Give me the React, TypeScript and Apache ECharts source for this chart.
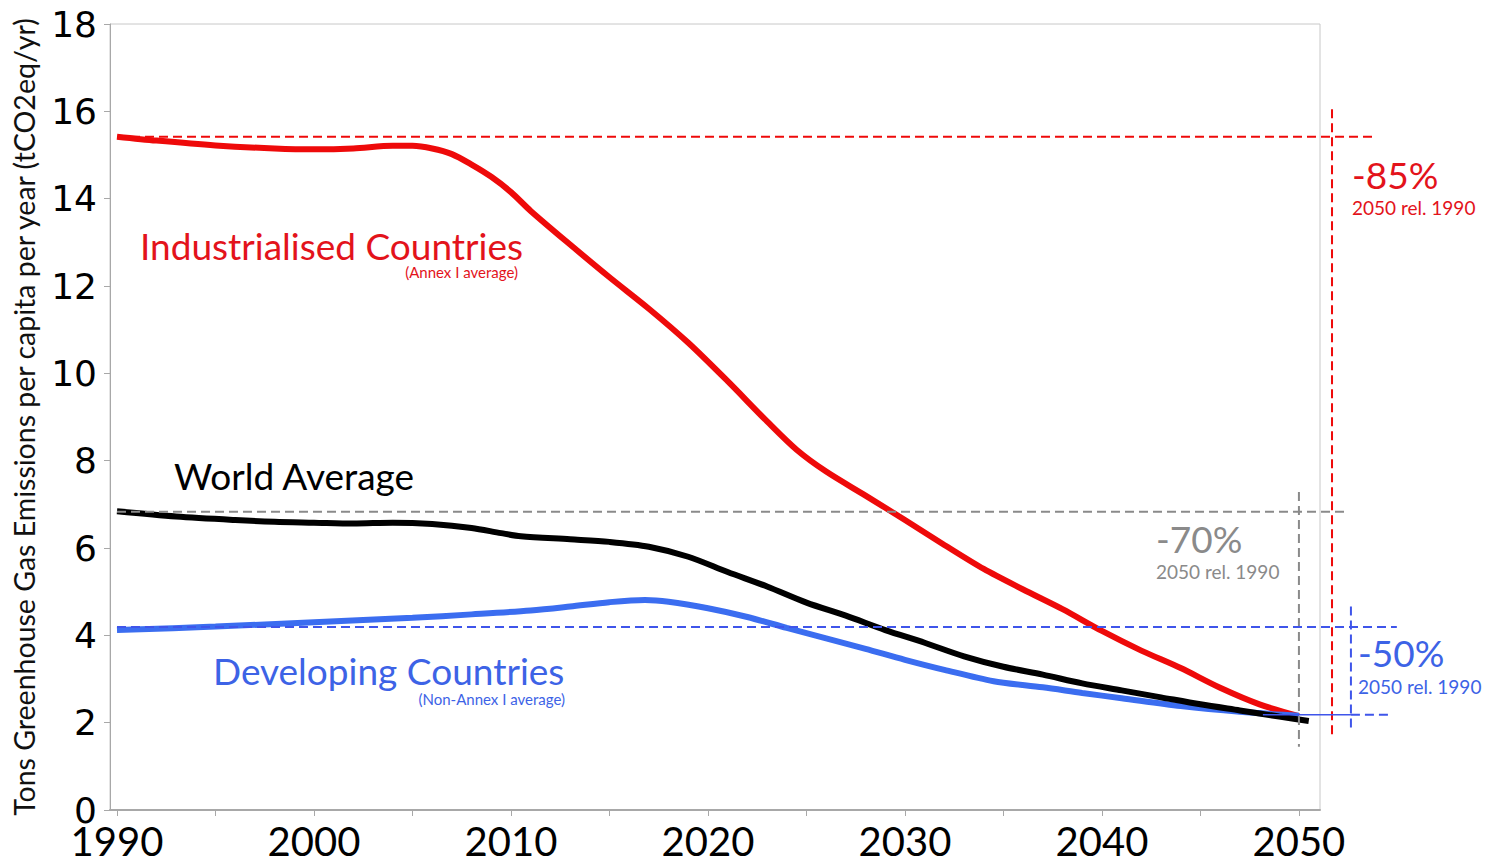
import React, { useEffect, useRef } from "react";
import * as echarts from "echarts";

// ---- Data ----
const industrialisedYears = [1990, 1992, 1995, 1998, 2000, 2002, 2004, 2005, 2006, 2007, 2008, 2009, 2010, 2011, 2013, 2015, 2017, 2019, 2021, 2023, 2024.5, 2026, 2028, 2030, 2032, 2034, 2036, 2038, 2040, 2042, 2044, 2046, 2048, 2050];
const industrialisedValues = [15.42, 15.33, 15.22, 15.15, 15.13, 15.15, 15.21, 15.21, 15.15, 15.02, 14.78, 14.5, 14.15, 13.72, 12.95, 12.2, 11.48, 10.7, 9.82, 8.9, 8.25, 7.75, 7.2, 6.64, 6.07, 5.52, 5.05, 4.6, 4.1, 3.65, 3.25, 2.8, 2.42, 2.15];

const worldYears = [1990, 1993, 1996, 1998, 2000, 2002, 2004, 2006, 2008, 2009.5, 2010.5, 2013, 2015, 2017, 2019, 2021, 2023, 2025, 2027, 2029, 2031, 2033, 2035, 2037, 2039, 2041, 2043, 2045, 2047, 2049, 2050.5];
const worldValues = [6.84, 6.72, 6.64, 6.6, 6.58, 6.56, 6.58, 6.55, 6.46, 6.34, 6.27, 6.2, 6.14, 6.03, 5.8, 5.45, 5.12, 4.75, 4.45, 4.12, 3.83, 3.52, 3.28, 3.1, 2.9, 2.74, 2.58, 2.42, 2.28, 2.14, 2.04];

const developingYears = [1990, 1995, 2000, 2005, 2008, 2011, 2013, 2015, 2016.8, 2018, 2020, 2022, 2024, 2026, 2028, 2030, 2032, 2034.5, 2037, 2039, 2041, 2044, 2047, 2050];
const developingValues = [4.12, 4.2, 4.3, 4.4, 4.48, 4.57, 4.66, 4.76, 4.81, 4.77, 4.62, 4.42, 4.17, 3.93, 3.69, 3.44, 3.21, 2.95, 2.81, 2.68, 2.56, 2.38, 2.25, 2.16];

// reference (dashed) guide lines in data units: [x0, y0, x1, y1]
const redGuideH = [1990, 15.42, 2053.96, 15.42];
const redGuideV = [2051.68, 16.05, 2051.68, 1.67];
const grayGuideH = [1990, 6.83, 2052.34, 6.83];
const grayGuideV = [2050, 7.28, 2050, 1.45];
const blueGuideH = [1990, 4.19, 2054.97, 4.19];
const blueSolidLow = [2048.17, 2.18, 2052.64, 2.18];
const blueGuideLow = [2052.64, 2.18, 2054.77, 2.18];
const blueGuideV = [2052.64, 4.66, 2052.64, 1.8];

const xTicks = [1990, 1995, 2000, 2005, 2010, 2015, 2020, 2025, 2030, 2035, 2040, 2045, 2050];
const xTickLabels = [1990, 2000, 2010, 2020, 2030, 2040, 2050];
const X_MIN = 1989.645;
const X_MAX = 2051.07;

const RED = "#ee0a0a";
const RED_TEXT = "#e3131b";
const BLUE = "#3b6df0";
const BLUE_TEXT = "#3d63e6";
const BLUE_DASH = "#3f55ea";
const GRAY = "#8a8a8a";

const HUMAN = "Lato, 'Open Sans', sans-serif";

function zip(xs: number[], ys: number[]) {
  return xs.map((x, i) => [x, ys[i]]);
}

function txt(text: string, x: number, y: number, color: string, size: number, align = "left") {
  return {
    type: "text",
    x,
    y,
    z: 20,
    style: {
      text,
      fill: color,
      fontSize: size,
      fontFamily: HUMAN,
      align,
      verticalAlign: "middle",
    },
  };
}

export default function App() {
  const ref = useRef<HTMLDivElement>(null);

  useEffect(() => {
    document.body.style.margin = "0";
    const chart = echarts.init(ref.current!, undefined, { renderer: "svg" });
    const lineSeries = (name: string, xs: number[], ys: number[], color: string, z: number) => ({
      name,
      type: "line",
      data: zip(xs, ys),
      symbol: "none",
      smooth: 0.3,
      z,
      lineStyle: { color, width: 6 },
    });
    chart.setOption({
      animation: false,
      backgroundColor: "#ffffff",
      grid: {
        left: 110,
        top: 24,
        right: 166,
        bottom: 50,
        show: true,
        borderColor: "#c8c8c8",
        borderWidth: 1,
        backgroundColor: "transparent",
        containLabel: false,
        outerBoundsMode: "none",
      },
      xAxis: {
        type: "value",
        min: X_MIN,
        max: X_MAX,
        axisLine: { show: true, lineStyle: { color: "#a8a8a8", width: 2 } },
        axisTick: {
          show: true,
          length: 6,
          customValues: xTicks,
          lineStyle: { color: "#a8a8a8", width: 1 },
        },
        splitLine: { show: false },
        axisLabel: {
          margin: 13,
          lineHeight: 36,
          color: "#000",
          fontSize: 40,
          fontFamily: HUMAN,
          customValues: xTickLabels,
          formatter: (v: number) => String(Math.round(v)),
        },
      },
      yAxis: {
        type: "value",
        min: 0,
        max: 18,
        interval: 2,
        name: "Tons Greenhouse Gas Emissions per capita per year (tCO2eq/yr)",
        nameLocation: "middle",
        nameRotate: 90,
        nameGap: 72,
        nameTextStyle: { color: "#111", fontSize: 28.5, fontFamily: HUMAN },
        axisLine: { show: true, lineStyle: { color: "#a8a8a8", width: 1 } },
        axisTick: { show: true, length: 6, lineStyle: { color: "#a8a8a8", width: 1 } },
        splitLine: { show: false },
        axisLabel: {
          margin: 13,
          color: "#000",
          fontSize: 36,
          fontFamily: "'DejaVu Sans', sans-serif",
        },
      },
      series: [
        lineSeries("Industrialised Countries", industrialisedYears, industrialisedValues, RED, 3),
        lineSeries("Developing Countries", developingYears, developingValues, BLUE, 3),
        lineSeries("World Average", worldYears, worldValues, "#000", 4),
      ],
    });

    const px = (x: number, y: number) => chart.convertToPixel({ gridIndex: 0 }, [x, y]) as number[];
    const guide = (seg: number[], color: string, dashed = true) => {
      const a = px(seg[0], seg[1]);
      const b = px(seg[2], seg[3]);
      return {
        type: "line",
        z: 10,
        silent: true,
        shape: { x1: a[0], y1: a[1], x2: b[0], y2: b[1] },
        style: { stroke: color, lineWidth: dashed ? 2 : 1.5, lineDash: dashed ? [9, 5] : null },
      };
    };

    chart.setOption({
      graphic: [
        guide(redGuideH, RED),
        guide(redGuideV, RED),
        guide(grayGuideH, GRAY),
        guide(grayGuideV, GRAY),
        guide(blueGuideH, BLUE_DASH),
        guide(blueSolidLow, BLUE_DASH, false),
        guide(blueGuideLow, BLUE_DASH),
        guide(blueGuideV, BLUE_DASH),
        txt("Industrialised Countries", 140, 245, RED_TEXT, 37),
        txt("(Annex I average)", 518, 272, RED_TEXT, 15, "right"),
        txt("World Average", 174, 475, "#000", 37),
        txt("Developing Countries", 213, 670, BLUE_TEXT, 37),
        txt("(Non-Annex I average)", 565, 699, BLUE_TEXT, 15, "right"),
        txt("-85%", 1352, 174, RED_TEXT, 37),
        txt("2050 rel. 1990", 1352, 207, RED_TEXT, 19),
        txt("-70%", 1156, 538, GRAY, 37),
        txt("2050 rel. 1990", 1156, 571, GRAY, 19),
        txt("-50%", 1358, 652, BLUE_TEXT, 37),
        txt("2050 rel. 1990", 1358, 686, BLUE_TEXT, 19),
      ],
    });
    return () => chart.dispose();
  }, []);

  return (
    <div
      ref={ref}
      style={{ position: "fixed", left: 0, top: 0, width: 1486, height: 860, background: "#fff" }}
    />
  );
}
